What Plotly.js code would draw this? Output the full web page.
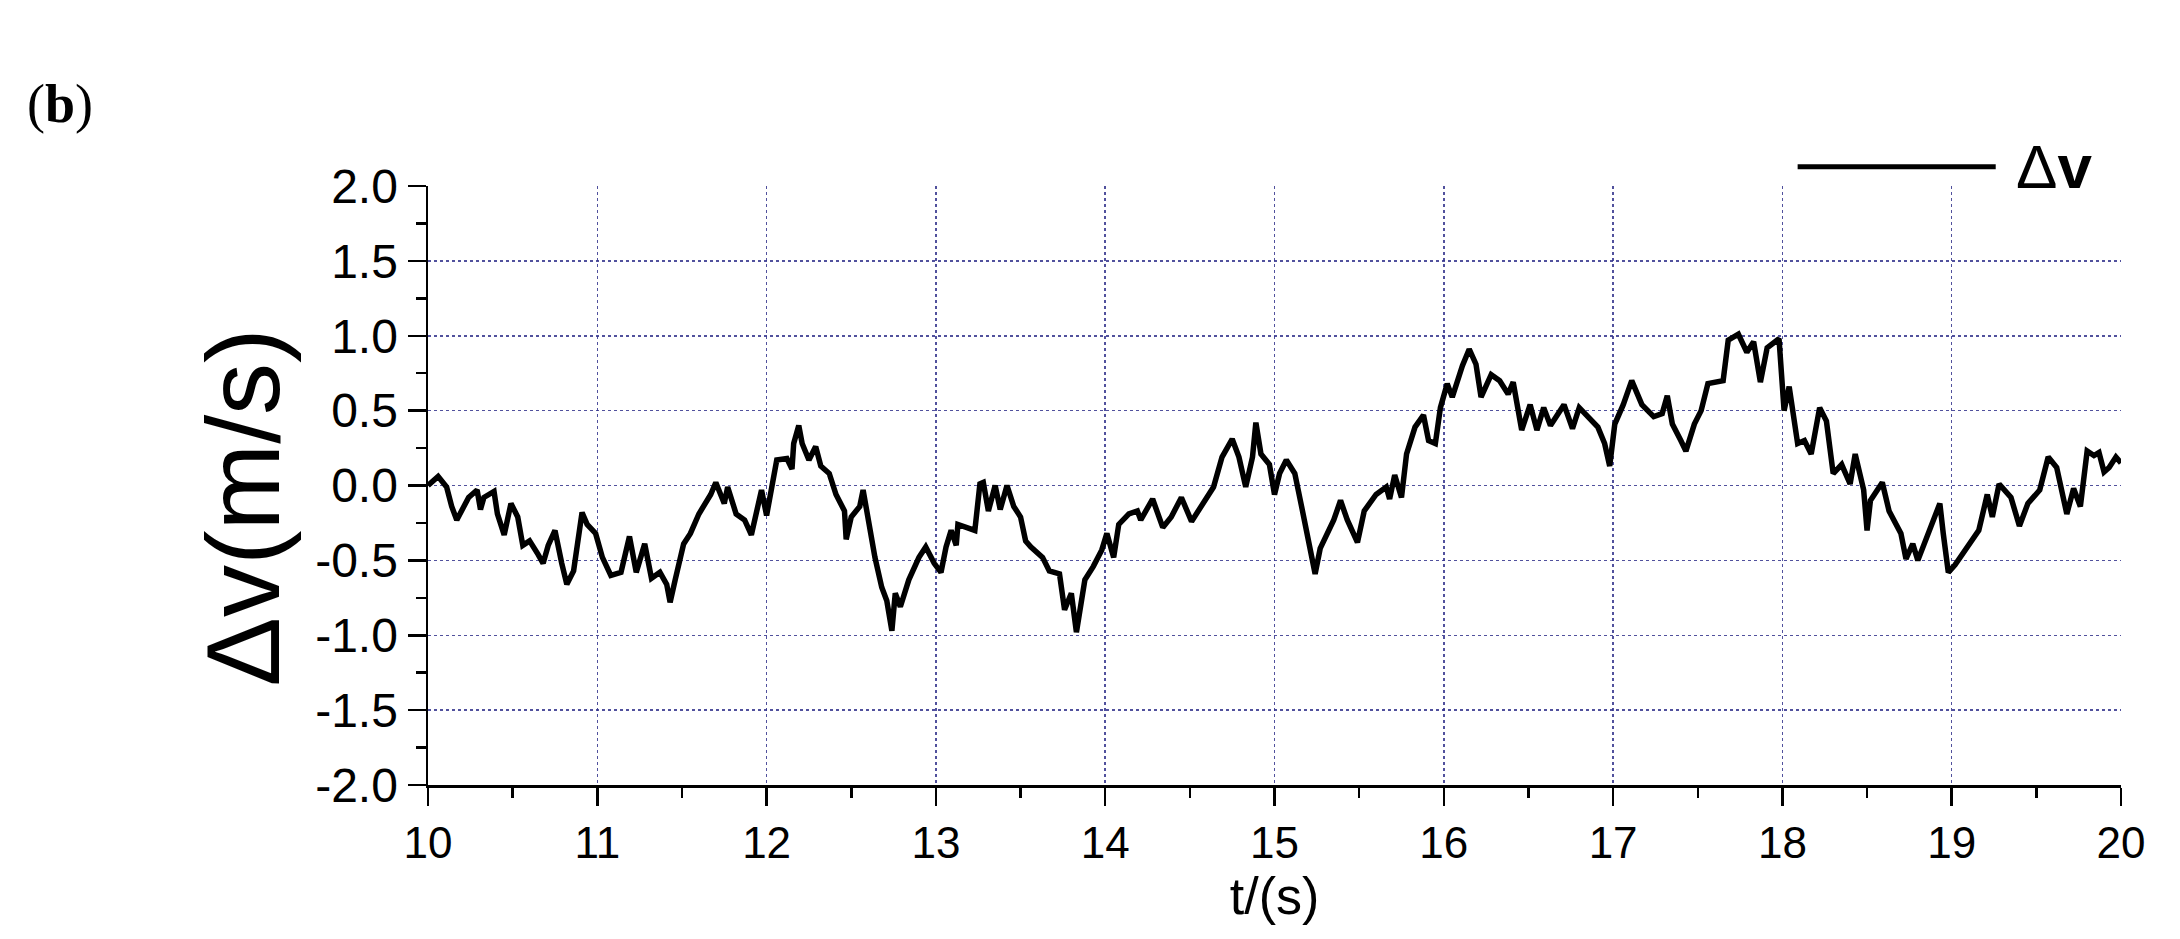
<!DOCTYPE html>
<html>
<head>
<meta charset="utf-8">
<script src="https://cdn.plot.ly/plotly-3.0.1.min.js"></script>
<style>
  html, body { margin: 0; padding: 0; background: #fff; }
  #chart { width: 2180px; height: 939px; }
</style>
</head>
<body>
<div id="chart"></div>
<script>
// Δv trace, t in seconds, Δv in m/s
const tSec = [
    10.00, 10.06, 10.11, 10.14, 10.17, 10.20, 10.24, 10.29, 10.31, 10.33,
    10.39, 10.41, 10.45, 10.49, 10.53, 10.56, 10.60, 10.65, 10.68, 10.71,
    10.75, 10.79, 10.82, 10.86, 10.91, 10.94, 10.99, 11.03, 11.08, 11.14,
    11.19, 11.23, 11.28, 11.32, 11.37, 11.41, 11.43, 11.46, 11.51, 11.55,
    11.60, 11.67, 11.70, 11.75, 11.77, 11.82, 11.87, 11.91, 11.95, 11.97,
    12.00, 12.03, 12.06, 12.12, 12.15, 12.16, 12.19, 12.21, 12.25, 12.29,
    12.32, 12.37, 12.41, 12.46, 12.47, 12.50, 12.55, 12.57, 12.60, 12.64,
    12.68, 12.71, 12.74, 12.76, 12.79, 12.84, 12.90, 12.94, 12.99, 13.03,
    13.06, 13.09, 13.12, 13.13, 13.23, 13.26, 13.28, 13.31, 13.35, 13.38,
    13.42, 13.46, 13.50, 13.53, 13.56, 13.63, 13.67, 13.73, 13.76, 13.80,
    13.83, 13.88, 13.93, 13.98, 14.01, 14.05, 14.08, 14.14, 14.19, 14.21,
    14.28, 14.34, 14.39, 14.45, 14.51, 14.57, 14.64, 14.69, 14.75, 14.79,
    14.83, 14.87, 14.89, 14.92, 14.97, 15.00, 15.03, 15.07, 15.12, 15.16,
    15.20, 15.24, 15.27, 15.32, 15.35, 15.39, 15.43, 15.49, 15.53, 15.60,
    15.66, 15.68, 15.71, 15.75, 15.78, 15.83, 15.88, 15.91, 15.95, 15.98,
    16.02, 16.05, 16.11, 16.15, 16.19, 16.22, 16.28, 16.33, 16.38, 16.41,
    16.46, 16.51, 16.55, 16.59, 16.63, 16.71, 16.76, 16.80, 16.87, 16.91,
    16.95, 16.98, 17.01, 17.06, 17.11, 17.17, 17.24, 17.29, 17.32, 17.35,
    17.40, 17.43, 17.48, 17.52, 17.56, 17.65, 17.68, 17.74, 17.79, 17.83,
    17.87, 17.91, 17.98, 18.01, 18.04, 18.09, 18.13, 18.17, 18.22, 18.26,
    18.30, 18.35, 18.40, 18.43, 18.48, 18.50, 18.52, 18.59, 18.63, 18.70,
    18.73, 18.77, 18.80, 18.87, 18.93, 18.95, 18.98, 19.02, 19.09, 19.16,
    19.21, 19.24, 19.28, 19.35, 19.40, 19.45, 19.52, 19.57, 19.62, 19.68,
    19.72, 19.76, 19.80, 19.84, 19.87, 19.90, 19.93, 19.97, 20.00,
];
const dv = [
     0.00,  0.06, -0.01, -0.14, -0.23, -0.17, -0.08, -0.03, -0.16, -0.08,
    -0.04, -0.19, -0.33, -0.12, -0.21, -0.40, -0.37, -0.46, -0.52, -0.40,
    -0.30, -0.52, -0.66, -0.57, -0.18, -0.26, -0.32, -0.48, -0.60, -0.58,
    -0.34, -0.58, -0.39, -0.62, -0.58, -0.66, -0.78, -0.63, -0.39, -0.32,
    -0.19, -0.06,  0.02, -0.12, -0.01, -0.19, -0.23, -0.33, -0.12, -0.03,
    -0.20, -0.01,  0.17,  0.18,  0.11,  0.28,  0.40,  0.28,  0.17,  0.26,
     0.13,  0.08, -0.06, -0.17, -0.36, -0.21, -0.14, -0.03, -0.23, -0.48,
    -0.68, -0.77, -0.97, -0.72, -0.81, -0.63, -0.48, -0.41, -0.52, -0.58,
    -0.41, -0.30, -0.40, -0.26, -0.30,  0.01,  0.02, -0.17,  0.00, -0.16,
     0.00, -0.14, -0.21, -0.37, -0.41, -0.48, -0.57, -0.59, -0.83, -0.72,
    -0.98, -0.63, -0.54, -0.43, -0.32, -0.48, -0.26, -0.19, -0.17, -0.23,
    -0.09, -0.28, -0.21, -0.08, -0.24, -0.14, -0.01,  0.19,  0.31,  0.19,
    -0.01,  0.19,  0.42,  0.21,  0.14, -0.06,  0.08,  0.17,  0.08, -0.14,
    -0.39, -0.59, -0.42, -0.30, -0.23, -0.10, -0.23, -0.38, -0.17, -0.06,
    -0.01, -0.09,  0.07, -0.08,  0.21,  0.39,  0.47,  0.30,  0.28,  0.52,
     0.68,  0.59,  0.80,  0.91,  0.81,  0.59,  0.74,  0.70,  0.61,  0.69,
     0.37,  0.54,  0.37,  0.52,  0.40,  0.54,  0.38,  0.52,  0.44,  0.39,
     0.28,  0.13,  0.41,  0.54,  0.70,  0.54,  0.46,  0.48,  0.60,  0.41,
     0.30,  0.23,  0.41,  0.50,  0.68,  0.70,  0.97,  1.01,  0.89,  0.96,
     0.69,  0.92,  0.98,  0.50,  0.66,  0.28,  0.30,  0.21,  0.52,  0.43,
     0.08,  0.14,  0.01,  0.21, -0.03, -0.30, -0.10,  0.02, -0.17, -0.32,
    -0.49, -0.39, -0.50, -0.30, -0.12, -0.32, -0.58, -0.53, -0.41, -0.30,
    -0.06, -0.21,  0.01, -0.08, -0.27, -0.12, -0.03,  0.19,  0.12, -0.19,
    -0.02, -0.14,  0.23,  0.20,  0.22,  0.09,  0.12,  0.19,  0.15,
];

const xTickVals = [10, 11, 12, 13, 14, 15, 16, 17, 18, 19, 20];
const yTickVals = [-2.0, -1.5, -1.0, -0.5, 0.0, 0.5, 1.0, 1.5, 2.0];
const yTickText = ['-2.0', '-1.5', '-1.0', '-0.5', '0.0', '0.5', '1.0', '1.5', '2.0'];
// interior grid lines only (the frame edges carry no dotted line)
const xGridVals = [11, 12, 13, 14, 15, 16, 17, 18, 19];
const yGridVals = [-1.5, -1.0, -0.5, 0.0, 0.5, 1.0, 1.5];
const seriesName = 'Δv';
const yTitle = 'Δv(m/s)';
const xTitle = 't/(s)';

const FONT = '"Liberation Sans", Arial, sans-serif';
const GRID = 'rgba(50,50,140,0.85)';

const trace = {
    x: tSec, y: dv,
    type: 'scatter', mode: 'lines',
    name: seriesName,
    line: { color: '#000', width: 5.5 },
    showlegend: false,
    hoverinfo: 'skip',
};

// invisible carrier so the grid-only axes get drawn
const gridTrace = {
    x: [10, 20], y: [-2, 2], xaxis: 'x2', yaxis: 'y2',
    type: 'scatter', mode: 'none', showlegend: false, hoverinfo: 'skip',
};

const axisCommon = {
    showline: true, linecolor: '#000', linewidth: 2.5,
    ticks: 'outside', ticklen: 18, tickwidth: 2.5, tickcolor: '#000',
    showgrid: false, zeroline: false,
    tickfont: { family: FONT, size: 44, color: '#000' },
};

const gridAxis = {
    showgrid: true, gridcolor: GRID, gridwidth: 1.5, griddash: 'dot',
    showticklabels: false, ticks: '', showline: false, zeroline: false,
};

const layout = {
    width: 2180, height: 939,
    paper_bgcolor: '#fff', plot_bgcolor: '#fff',
    font: { family: FONT, color: '#000' },
    margin: { l: 428, r: 59, t: 186, b: 154 },
    showlegend: false,
    xaxis2: { ...gridAxis, range: [10, 20], tickvals: xGridVals, overlaying: 'x' },
    yaxis2: { ...gridAxis, range: [-2, 2], tickvals: yGridVals, overlaying: 'y' },
    xaxis: {
        ...axisCommon,
        range: [10, 20],
        tickvals: xTickVals,
        minor: { dtick: 0.5, tick0: 10, ticks: 'outside', ticklen: 10, tickwidth: 2.5, tickcolor: '#000', showgrid: false },
        title: { text: xTitle, font: { family: FONT, size: 52 }, standoff: 0 },
    },
    yaxis: {
        ...axisCommon,
        range: [-2, 2],
        tickvals: yTickVals,
        ticktext: yTickText,
        tickfont: { family: FONT, size: 48, color: '#000' },
        minor: { dtick: 0.25, tick0: 0, ticks: 'outside', ticklen: 10, tickwidth: 2.5, tickcolor: '#000', showgrid: false },
    },
    shapes: [
        // legend sample line
        { type: 'line', xref: 'paper', yref: 'paper',
          x0: 0.809, x1: 0.926, y0: 1.032, y1: 1.032,
          line: { color: '#000', width: 5 } },
    ],
    annotations: [
        // y-axis title, set a little below the plot middle as in the figure
        { xref: 'paper', yref: 'paper', x: -0.109, y: 0.464,
          xanchor: 'center', yanchor: 'middle', textangle: -90, showarrow: false,
          text: yTitle, font: { family: FONT, size: 104, color: '#000' } },
        { xref: 'paper', yref: 'paper', x: 0.937, y: 1.032,
          xanchor: 'left', yanchor: 'middle', showarrow: false,
          text: 'Δ<b>v</b>', font: { family: FONT, size: 62, color: '#000' } },
        { xref: 'paper', yref: 'paper', x: -0.238, y: 1.137,
          xanchor: 'left', yanchor: 'middle', showarrow: false,
          text: '(<b>b</b>)', font: { family: '"Liberation Serif", "Times New Roman", serif', size: 54, color: '#000' } },
    ],
};

Plotly.newPlot('chart', [gridTrace, trace], layout, { displayModeBar: false, staticPlot: true });
</script>
</body>
</html>
